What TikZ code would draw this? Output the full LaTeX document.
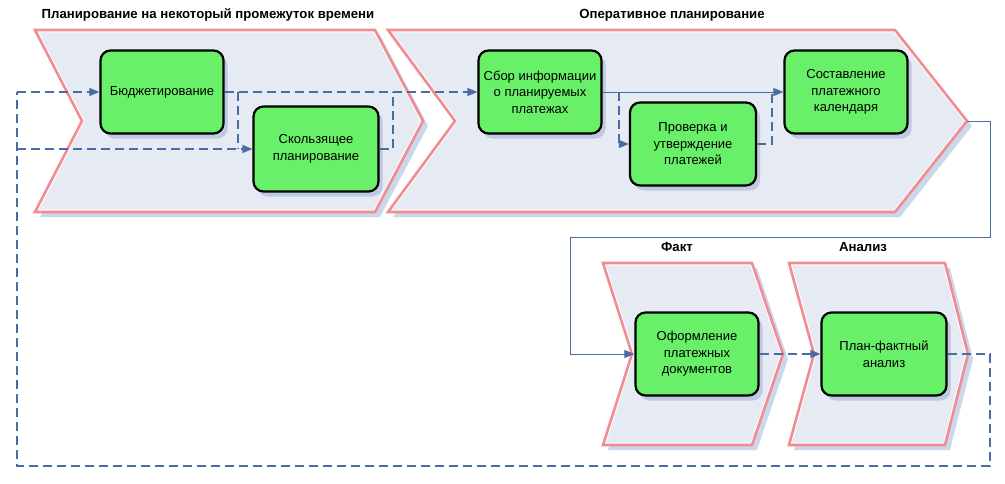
\documentclass[tikz,border=0pt]{standalone}
\usepackage{fontspec}
\setmainfont{Liberation Sans}
\usetikzlibrary{arrows.meta,shadows}
\definecolor{chevfill}{RGB}{229,234,243}
\definecolor{chevline}{RGB}{240,140,146}
\definecolor{chevshade}{RGB}{203,215,234}
\definecolor{boxgreen}{RGB}{104,240,104}
\definecolor{flow}{RGB}{74,108,165}
\definecolor{boxshade}{RGB}{190,202,225}
\newcommand\chevpathA{(35,30) -- (375,30) -- (423,121) -- (375,212) -- (35,212) -- (82,121) -- cycle}
\newcommand\chevpathB{(388,30) -- (895,30) -- (967,121) -- (895,212) -- (388,212) -- (455,121) -- cycle}
\newcommand\chevpathC{(603,263) -- (752,263) -- (783,354) -- (752,445) -- (603,445) -- (632,354) -- cycle}
\newcommand\chevpathD{(789,263) -- (945,263) -- (968,354) -- (945,445) -- (789,445) -- (814,354) -- cycle}
\newcommand\drawchevron[1]{%
  \begin{scope}[shift={(5,5)}]\fill[chevshade] #1;\end{scope}
  \fill[chevfill] #1;
  \begin{scope}\clip #1; \draw[white, line width=4.6pt, line join=miter] #1;\end{scope}
  \draw[chevline, line width=2.6pt, line join=miter] #1;}
\begin{document}
\begin{tikzpicture}[x=1pt,y=-1pt,
  proc/.style={draw=black, line width=2.2pt, rounded corners=10pt, fill=boxgreen,
    minimum width=123pt, minimum height=83pt, align=center, inner sep=1pt,
    font=\fontsize{13}{16.5}\selectfont,
    drop shadow={shadow xshift=4pt, shadow yshift=-5pt, fill=boxshade, opacity=1}},
  ttl/.style={font=\bfseries\fontsize{13.2}{15}\selectfont},
  dflow/.style={draw=flow, line width=1.3pt, dash pattern=on 9pt off 5pt},
  sflow/.style={draw=flow, line width=0.9pt},
  arr/.style={-{Triangle[length=10pt,width=8pt,fill=flow]}}]
\useasboundingbox (0,0) rectangle (1005,483);
\fill[white] (0,0) rectangle (1005,483);

% chevrons (stages)
\drawchevron{\chevpathA}
\drawchevron{\chevpathB}
\drawchevron{\chevpathC}
\drawchevron{\chevpathD}

% titles
\node[ttl] (t1) at (208,15) {Планирование на некоторый промежуток времени};
\node[ttl] (t2) at (672,15) {Оперативное планирование};
\node[ttl] (t3) at (677,247) {Факт};
\node[ttl] (t4) at (863,247) {Анализ};

% process boxes
\node[proc] (b1) at (162,92) {Бюджетирование};
\node[proc, minimum width=125pt, minimum height=85pt] (b2) at (316,149) {Скользящее\\планирование};
\node[proc] (b3) at (540,92) {Сбор информации\\о планируемых\\платежах};
\node[proc, minimum width=126pt] (b4) at (693,144) {Проверка и\\утверждение\\платежей};
\node[proc] (b5) at (846,92) {Составление\\платежного\\календаря};
\node[proc] (b6) at (697,354) {Оформление\\платежных\\документов};
\node[proc, minimum width=125pt] (b7) at (884,354) {План-фактный\\анализ};

% junction coordinates
\coordinate (L1) at (17,92);
\coordinate (L2) at (17,149);
\coordinate (LB) at (17,466);
\coordinate (RB) at (990,466);
\coordinate (R1) at (990,354);
\coordinate (J1) at (238,92);
\coordinate (J2) at (393,92);
\coordinate (J3) at (619,92);
\coordinate (J4) at (772,92);
\coordinate (T2) at (967,121);
\coordinate (S1) at (990,121);
\coordinate (S2) at (990,237);
\coordinate (S3) at (570,237);
\coordinate (S4) at (570,354);

% dashed feedback loop
\draw[dflow] (b7.east) -- (R1) -- (RB) -- (LB) -- (L1);
\draw[dflow, arr] (L1) -- (b1.west);
\draw[dflow, arr] (L2) -- (b2.west);
\draw[dflow] (J1) -- (J1 |- b2.west);
\draw[dflow, arr] (b1.east) -- (b3.west);
\draw[dflow] (b2.east) -| (J2);
% operational planning
\draw[sflow, arr] (b3.east) -- (b5.west);
\draw[dflow, arr] (J3) |- (b4.west);
\draw[dflow] (b4.east) -| (J4);
% to fact
\draw[sflow, arr] (T2) -- (S1) -- (S2) -- (S3) -- (S4) -- (b6.west);
\draw[dflow, arr] (b6.east) -- (b7.west);
\end{tikzpicture}
\end{document}
